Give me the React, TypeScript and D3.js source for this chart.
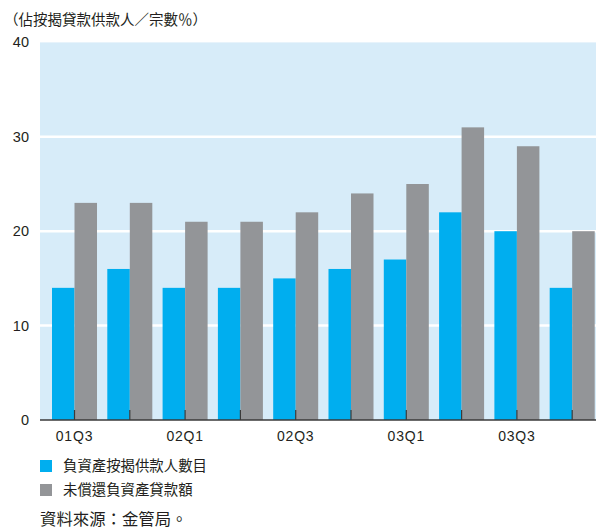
import React from "react";
import * as d3 from "d3";

const categories = ["01Q3", "01Q4", "02Q1", "02Q2", "02Q3", "02Q4", "03Q1", "03Q2", "03Q3", "03Q4"];
const tickLabels = ["01Q3", "02Q1", "02Q3", "03Q1", "03Q3"];
const seriesNames = ["負資產按揭供款人數目", "未償還負資產貸款額"];
const borrowers = [14, 16, 14, 14, 15, 16, 17, 22, 20, 14];
const loanAmount = [23, 23, 21, 21, 22, 24, 25, 31, 29, 20];
const yTicks = [0, 10, 20, 30, 40];

const W = 596;
const H = 529;
const plotL = 40;
const plotR = 596;
const plotT = 42.4;
const plotB = 420;
const colors = ["#00aeef", "#939598"];
const font = "'Liberation Sans', 'Noto Sans CJK TC', sans-serif";
const cjk = "'Noto Sans CJK TC', sans-serif";

export default function App() {
  const y = d3.scaleLinear().domain([0, 40]).range([plotB, plotT]);
  const x = d3
    .scaleBand<string>()
    .domain(categories)
    .range([52, 594.7])
    .paddingInner(0.186)
    .paddingOuter(0);
  const xs = d3.scaleBand<number>().domain([0, 1]).range([0, x.bandwidth()]);
  const series = [borrowers, loanAmount];

  return (
    <svg
      width={W}
      height={H}
      style={{ position: "absolute", left: 0, top: 0, display: "block" }}
    >
      <rect x={0} y={0} width={W} height={H} fill="#ffffff" />
      <text x={4} y={25} fontFamily={cjk} fontSize={14.5} fill="#231f20">
        （佔按揭貸款供款人／宗數％）
      </text>
      <rect x={plotL} y={plotT} width={plotR - plotL} height={plotB - plotT} fill="#d7ecf9" />
      {yTicks
        .filter((t) => t > 0 && t < 40)
        .map((t) => (
          <line key={t} x1={plotL} x2={plotR} y1={y(t)} y2={y(t)} stroke="#ffffff" strokeWidth={2.5} />
        ))}
      {yTicks.map((t) => (
        <text
          key={"yl" + t}
          x={29}
          y={y(t) + 5}
          textAnchor="end"
          fontFamily={font}
          fontSize={14.5}
          fill="#231f20"
        >
          {t}
        </text>
      ))}
      {series.map((vals, si) =>
        vals.map((v, i) => (
          <rect
            key={si + "-" + i}
            x={(x(categories[i]) as number) + (xs(si) as number)}
            y={y(v)}
            width={xs.bandwidth()}
            height={plotB - y(v)}
            fill={colors[si]}
          />
        ))
      )}
      {categories.map((c) => {
        const cx = (x(c) as number) + x.bandwidth() / 2;
        return <line key={"tk" + c} x1={cx} x2={cx} y1={plotB - 10} y2={plotB} stroke="#3a3a3a" strokeWidth={1.2} />;
      })}
      <line x1={plotL} x2={plotR} y1={plotB} y2={plotB} stroke="#3a3a3a" strokeWidth={1.5} />
      {tickLabels.map((c) => {
        const cx = (x(c) as number) + x.bandwidth() / 2;
        return (
          <text
            key={"xl" + c}
            x={cx}
            y={441}
            textAnchor="middle"
            fontFamily={font}
            fontSize={14}
            letterSpacing={0.8}
            fill="#231f20"
          >
            {c}
          </text>
        );
      })}
      {seriesNames.map((n, i) => (
        <g key={"lg" + i} transform={`translate(40, ${460 + i * 24})`}>
          <rect x={0} y={0} width={12} height={12} fill={colors[i]} />
          <text x={23} y={11} fontFamily={cjk} fontSize={14.4} fill="#231f20">
            {n}
          </text>
        </g>
      ))}
      <text x={40} y={525} fontFamily={cjk} fontSize={16.4} fill="#231f20">
        資料來源：金管局。
      </text>
    </svg>
  );
}
